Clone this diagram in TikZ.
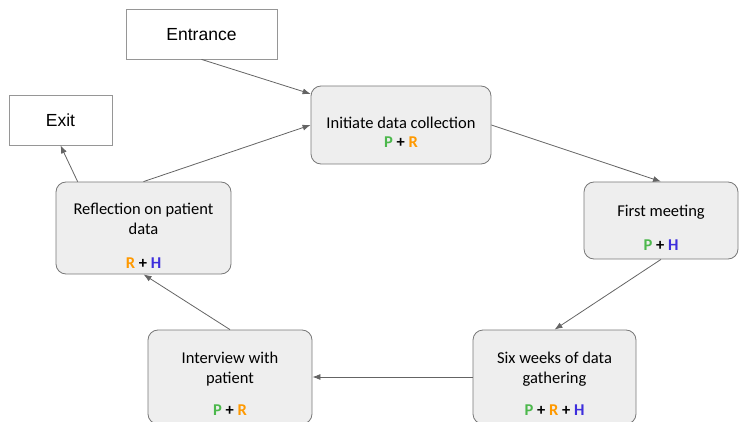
\documentclass[tikz,border=0pt]{standalone}
\usepackage{fontspec}
\setmainfont{Carlito}
\newfontfamily\arialfont{Liberation Sans}
\usetikzlibrary{arrows.meta,calc}
\definecolor{boxfill}{RGB}{238,238,238}
\definecolor{boxline}{RGB}{120,120,120}
\definecolor{termline}{RGB}{150,150,150}
\definecolor{arrowc}{RGB}{100,100,100}
\definecolor{pgreen}{RGB}{76,184,76}
\definecolor{rorange}{RGB}{255,153,0}
\definecolor{hblue}{RGB}{61,46,220}
\newcommand{\Pc}{\textcolor{pgreen}{P}}
\newcommand{\Rc}{\textcolor{rorange}{R}}
\newcommand{\Hc}{\textcolor{hblue}{H}}
\tikzset{
  proc/.style={draw=boxline, fill=boxfill, rounded corners=10pt, line width=0.8pt, inner sep=0pt},
  term/.style={draw=termline, fill=white, line width=0.8pt, inner sep=0pt},
  lbl/.style={font=\fontsize{16.5}{20}\selectfont, align=center, inner sep=0pt},
  tag/.style={font=\fontsize{16.5}{20}\selectfont\bfseries, inner sep=0pt},
  termtxt/.style={font=\arialfont\fontsize{17.5}{21}\selectfont, inner sep=0pt},
  arr/.style={draw=arrowc, line width=0.8pt, -{Latex[length=8pt,width=6pt]}}
}
\begin{document}
\begin{tikzpicture}[x=1pt,y=-1pt]
\useasboundingbox (0,0) rectangle (739,422);
\clip (0,0) rectangle (739,422);
% terminals
\node[term, minimum width=151pt, minimum height=50pt] (ent) at (201.5,34) {};
\node[termtxt] (entt) at (201.5,35) {Entrance};
\node[term, minimum width=103pt, minimum height=50pt] (exit) at (60.5,120) {};
\node[termtxt] (exitt) at (60.5,120) {Exit};
% process boxes
\node[proc, minimum width=180pt, minimum height=78pt] (init) at (401,125) {};
\node[lbl] (initt) at (401,123) {Initiate data collection};
\node[tag] (initg) at (401,142) {\Pc{} + \Rc};

\node[proc, minimum width=154pt, minimum height=77pt] (first) at (661,220.5) {};
\node[lbl] (firstt) at (661,212) {First meeting};
\node[tag] (firstg) at (661,245) {\Pc{} + \Hc};

\node[proc, minimum width=175pt, minimum height=92pt] (refl) at (143.5,228) {};
\node[lbl] (reflt) at (143.5,219) {Reflection on patient\\data};
\node[tag] (reflg) at (143.5,263) {\Rc{} + \Hc};

\node[proc, minimum width=164pt, minimum height=94pt] (intv) at (230,377) {};
\node[lbl] (intvt) at (230,369) {Interview with\\patient};
\node[tag] (intvg) at (230,410) {\Pc{} + \Rc};

\node[proc, minimum width=163pt, minimum height=94pt] (six) at (554.5,377) {};
\node[lbl] (sixt) at (554.5,369) {Six weeks of data\\gathering};
\node[tag] (sixg) at (554.5,410) {\Pc{} + \Rc{} + \Hc};
% connectors
\draw[arr] (ent.south) -- (init.161.6);
\draw[arr] (refl.north) -- (init.west);
\draw[arr] (init.east) -- (first.north);
\draw[arr] (first.south) -- (six.north);
\draw[arr] (six.west) -- (intv.east);
\draw[arr] (intv.north) -- (refl.south);
\draw[arr] ($(refl.north west)+(22,0)$) -- (exit.south);
\end{tikzpicture}
\end{document}
